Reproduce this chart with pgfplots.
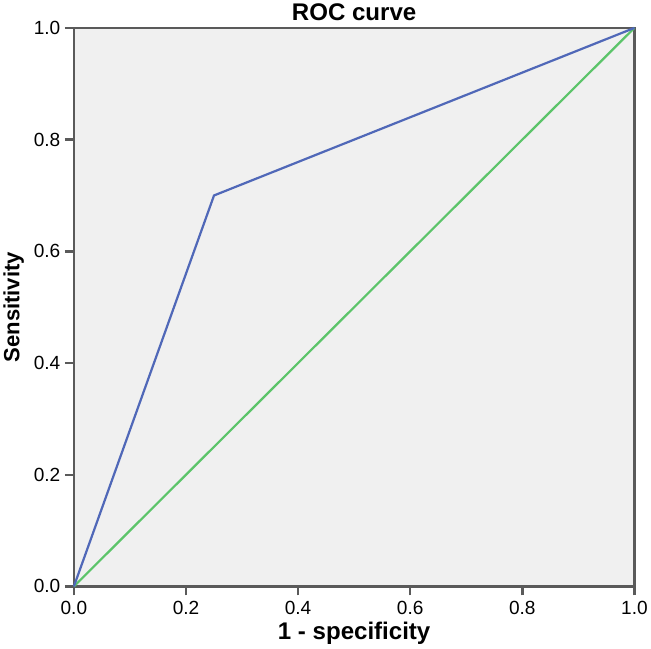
\documentclass[border=0pt]{standalone}
\usepackage{pgfplots}
\pgfplotsset{compat=1.18}
\usepackage{fontspec}
\setmainfont{Liberation Sans}
\definecolor{bgc}{HTML}{F0F0F0}
\definecolor{axc}{HTML}{5A5A5A}
\definecolor{roc}{HTML}{5068B8}
\definecolor{diag}{HTML}{5CC46A}
\begin{document}
\begin{tikzpicture}
\begin{axis}[
  scale only axis,
  width=557bp, height=555bp,
  xmin=0, xmax=1, ymin=0, ymax=1,
  axis background/.style={fill=bgc},
  axis line style={draw=axc, line width=2.4pt},
  every axis/.append style={line width=2.4pt},
  xtick={0,0.2,...,1.0}, ytick={0,0.2,...,1.0},
  tick align=outside,
  xtick pos=bottom, ytick pos=left,
  major tick length=9bp,
  major tick style={draw=axc, line width=2.4pt},
  /pgf/number format/assume math mode=true,
  xticklabel={\pgfmathprintnumber[fixed, fixed zerofill, precision=1]{\tick}},
  yticklabel={\pgfmathprintnumber[fixed, fixed zerofill, precision=1]{\tick}},
  tick label style={font=\fontsize{19}{22}\selectfont, text=black},
  xticklabel style={yshift=-1bp},
  title={\textbf{ROC curve}},
  title style={font=\fontsize{24}{28}\selectfont, yshift=-3bp},
  xlabel={\textbf{1 - specificity}},
  ylabel={\textbf{Sensitivity}},
  xlabel style={font=\fontsize{24}{28}\selectfont, yshift=0bp},
  ylabel style={font=\fontsize{22}{26}\selectfont, yshift=2bp},
  clip=false,
]
\addplot[diag, line width=2.2pt] coordinates {(0,0) (1,1)};
\addplot[roc, line width=2.2pt] coordinates {(0,0) (0.25,0.70) (1,1)};
\end{axis}
\end{tikzpicture}
\end{document}
